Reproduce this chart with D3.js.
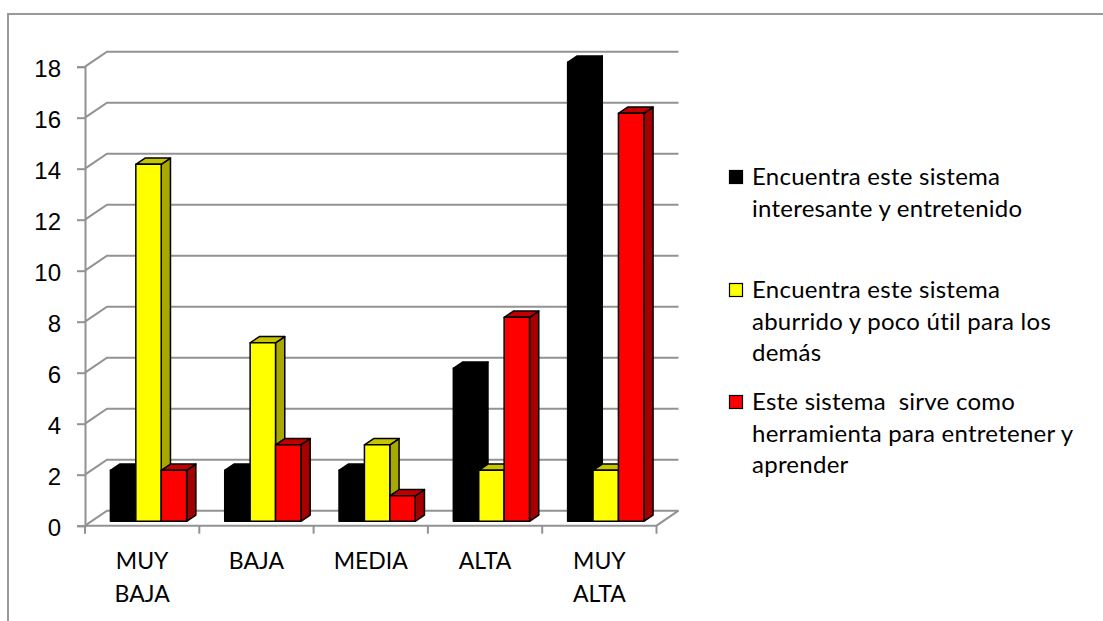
<!DOCTYPE html>
<html lang="es">
<head>
<meta charset="utf-8">
<title>Valoración del sistema</title>
<script src="https://cdn.jsdelivr.net/npm/d3@7"></script>
<style>
  body { margin: 0; background: #fff; }
  svg { display: block; font-family: Lato, "Liberation Sans", sans-serif; }
</style>
</head>
<body>
<script>
// categories and series
var categorias = ["MUY BAJA", "BAJA", "MEDIA", "ALTA", "MUY ALTA"];
var etiquetas = [["MUY", "BAJA"], ["BAJA"], ["MEDIA"], ["ALTA"], ["MUY", "ALTA"]];
var series = [
  "Encuentra este sistema interesante y entretenido",
  "Encuentra este sistema aburrido y poco útil para los demás",
  "Este sistema  sirve como herramienta para entretener y aprender"
];
var lineasLeyenda = [
  ["Encuentra este sistema", "interesante y entretenido"],
  ["Encuentra este sistema", "aburrido y poco útil para los", "demás"],
  ["Este sistema  sirve como", "herramienta para entretener y", "aprender"]
];
var interesante = [2, 2, 2, 6, 18];
var aburrido = [14, 7, 3, 2, 2];
var herramienta = [2, 3, 1, 8, 16];
var yTicks = [0, 2, 4, 6, 8, 10, 12, 14, 16, 18];

var valores = [interesante, aburrido, herramienta];
var caras = [
  { front: "#000000", top: "#000000", side: "#000000" },
  { front: "#ffff00", top: "#c4c400", side: "#a8a800" },
  { front: "#ff0000", top: "#c00000", side: "#a50000" }
];

var w = 1103, h = 621;
var depthX = 22, depthY = -15;   // offset of the back wall
var t0 = 0.29, t1 = 0.71;        // bar depth inside the floor

var svg = d3.select("body").append("svg")
  .attr("width", w).attr("height", h);

// outer frame
svg.append("path")
  .attr("d", "M8,621 V14 H1103")
  .attr("fill", "none")
  .attr("stroke", "#9a9a9a")
  .attr("stroke-width", 2);

var x = d3.scaleBand().domain(categorias).range([85, 656.5]);
var xs = d3.scaleBand().domain(d3.range(series.length))
  .range([0, x.bandwidth()]).paddingOuter(0.75).paddingInner(0);
var y = d3.scaleLinear().domain([0, 18]).range([525.7, 66.7]);

function p(px, v, t) {
  return [px + depthX * t, y(v) + depthY * t];
}
function poly(pts) {
  return "M" + pts.map(function(q) { return q[0] + "," + q[1]; }).join("L") + "Z";
}

var grid = svg.append("g")
  .attr("fill", "none")
  .attr("stroke", "#929292")
  .attr("stroke-width", 2);

// side wall and back wall gridlines
yTicks.forEach(function(v) {
  var a = p(85, v, 0), b = p(85, v, 1), c = p(x.range()[1], v, 1);
  grid.append("path").attr("d", "M" + a + "L" + b + "L" + c);
});

// floor front and right edges
var f0 = p(85, 0, 0), f1 = p(x.range()[1], 0, 0), f2 = p(x.range()[1], 0, 1);
grid.append("path").attr("d", "M" + f0 + "L" + f1 + "L" + f2);

// value axis
var yAxis = d3.axisLeft(y).tickValues(yTicks).tickSize(8).tickPadding(16);
var gy = svg.append("g")
  .attr("transform", "translate(85,0)")
  .call(yAxis);
gy.select(".domain").attr("stroke", "#929292").attr("stroke-width", 2);
gy.selectAll(".tick line").attr("stroke", "#929292").attr("stroke-width", 2);
gy.selectAll(".tick text")
  .attr("dy", "0.4em")
  .attr("fill", "#000")
  .style("font-size", "24px");

// category ticks on band edges
svg.append("g").selectAll("line")
  .data(categorias.map(function(c) { return x(c); }).concat([x.range()[1]]))
  .enter().append("line")
  .attr("x1", function(d) { return d; })
  .attr("x2", function(d) { return d; })
  .attr("y1", y(0))
  .attr("y2", y(0) + 8)
  .attr("stroke", "#929292")
  .attr("stroke-width", 2);

// category labels
svg.append("g").selectAll("text")
  .data(categorias)
  .enter().append("text")
  .attr("x", function(d) { return x(d) + x.bandwidth() / 2; })
  .attr("y", 568.5)
  .attr("text-anchor", "middle")
  .style("font-size", "23px")
  .each(function(d, i) {
    var t = d3.select(this);
    etiquetas[i].forEach(function(l, k) {
      t.append("tspan")
        .attr("x", x(d) + x.bandwidth() / 2)
        .attr("dy", k === 0 ? 0 : 33.5)
        .text(l);
    });
  });

// 3D bars, drawn left to right so each front face covers the previous side
var barras = svg.append("g")
  .attr("stroke", "#000")
  .attr("stroke-width", 1.5)
  .attr("stroke-linejoin", "round");

categorias.forEach(function(c, i) {
  series.forEach(function(s, j) {
    var v = valores[j][i];
    var xl = x(c) + xs(j), xr = xl + xs.bandwidth();
    var col = caras[j];
    var g = barras.append("g");
    g.append("path")
      .attr("fill", col.side)
      .attr("d", poly([p(xr, 0, t0), p(xr, 0, t1), p(xr, v, t1), p(xr, v, t0)]));
    g.append("path")
      .attr("fill", col.top)
      .attr("d", poly([p(xl, v, t0), p(xl, v, t1), p(xr, v, t1), p(xr, v, t0)]));
    g.append("path")
      .attr("fill", col.front)
      .attr("d", poly([p(xl, 0, t0), p(xr, 0, t0), p(xr, v, t0), p(xl, v, t0)]));
  });
});

// legend
var baseLeyenda = [185, 298, 410];
var leyenda = svg.append("g");
series.forEach(function(s, j) {
  var b = baseLeyenda[j];
  leyenda.append("rect")
    .attr("x", 729.5).attr("y", b - 14.5)
    .attr("width", 13).attr("height", 13)
    .attr("fill", caras[j].front)
    .attr("stroke", "#000")
    .attr("stroke-width", 1.2);
  var t = leyenda.append("text")
    .attr("x", 752).attr("y", b)
    .style("font-size", "24px")
    .style("letter-spacing", "0.25px")
    .attr("xml:space", "preserve")
    .style("white-space", "pre");
  lineasLeyenda[j].forEach(function(l, k) {
    t.append("tspan")
      .attr("x", 752)
      .attr("dy", k === 0 ? 0 : 31.5)
      .text(l);
  });
});
</script>
</body>
</html>
